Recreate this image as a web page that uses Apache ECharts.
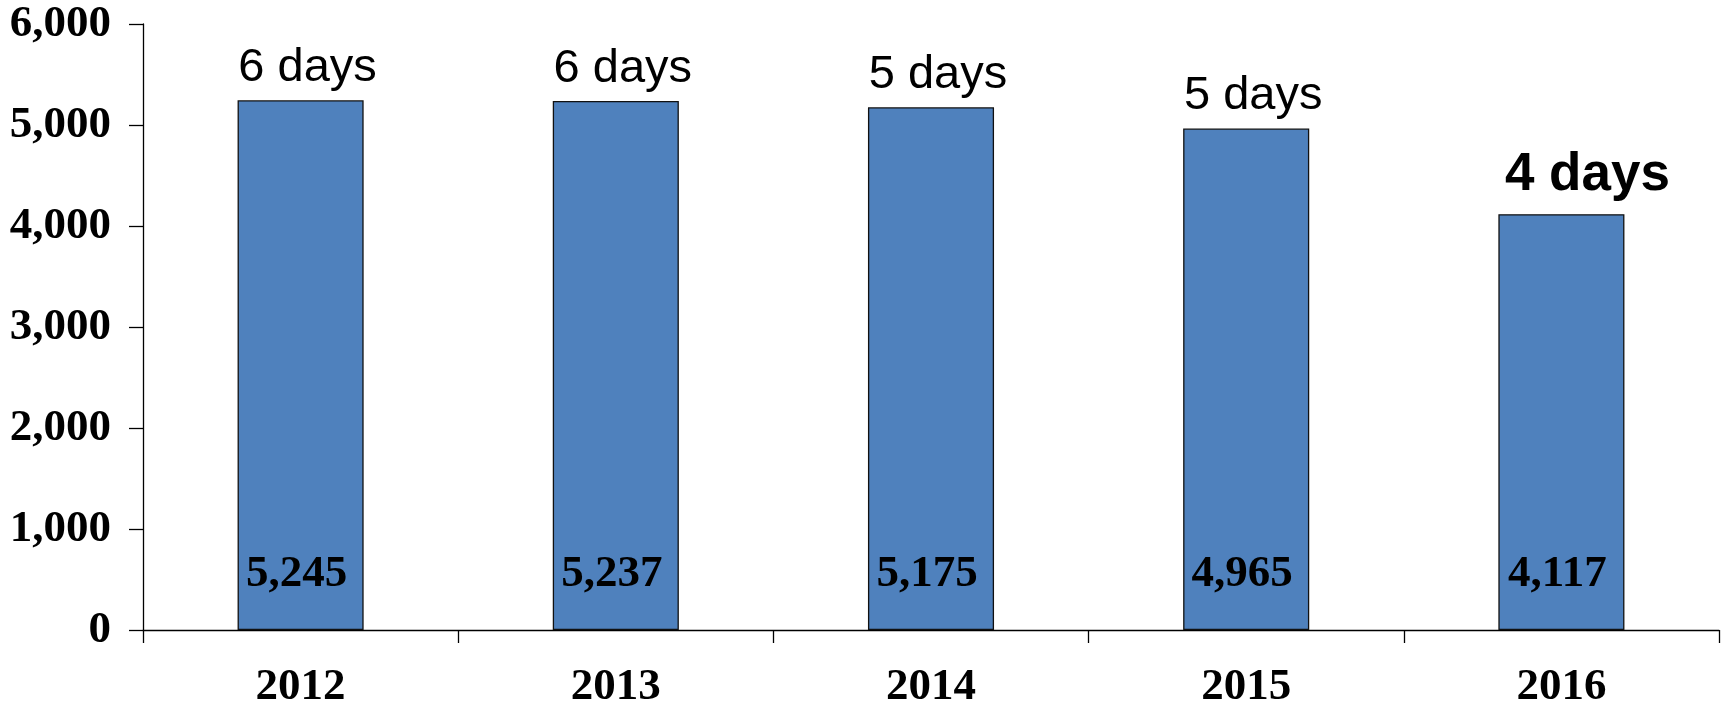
<!DOCTYPE html>
<html>
<head>
<meta charset="utf-8">
<script src="https://cdn.jsdelivr.net/npm/echarts@6/dist/echarts.min.js"></script>
<style>
html,body{margin:0;padding:0;background:#fff;}
#chart{width:1726px;height:706px;}
</style>
</head>
<body>
<div id="chart"></div>
<script>
const categories = ['2012', '2013', '2014', '2015', '2016'];
const values = [5245, 5237, 5175, 4965, 4117];
const dayLabels = ['6 days', '6 days', '5 days', '5 days', '4 days'];
const yTicks = [0, 1000, 2000, 3000, 4000, 5000, 6000];

const fmt = v => v.toLocaleString('en-US');
const serif = "'Liberation Serif', 'Times New Roman', serif";
const sans = "'Liberation Sans', Arial, sans-serif";
const last = values.length - 1;

const chart = echarts.init(document.getElementById('chart'));
chart.setOption({
  animation: false,
  backgroundColor: '#fff',
  grid: { left: 143, right: 7, top: 24, bottom: 76, containLabel: false, outerBoundsMode: 'none' },
  xAxis: {
    type: 'category',
    data: categories,
    boundaryGap: true,
    axisLine: { lineStyle: { color: '#000', width: 1.3 } },
    axisTick: { show: true, length: 13, alignWithLabel: false, lineStyle: { color: '#000', width: 1.3 } },
    axisLabel: { color: '#000', fontFamily: serif, fontWeight: 'bold', fontSize: 45, margin: 35 }
  },
  yAxis: {
    type: 'value',
    min: yTicks[0],
    max: yTicks[yTicks.length - 1],
    interval: yTicks[1] - yTicks[0],
    splitLine: { show: false },
    axisLine: { show: true, lineStyle: { color: '#000', width: 1.3 } },
    axisTick: { show: true, length: 14, lineStyle: { color: '#000', width: 1.3 } },
    axisLabel: { color: '#000', fontFamily: serif, fontWeight: 'bold', fontSize: 45, margin: 32, formatter: v => fmt(v) }
  },
  series: [
    {
      type: 'bar',
      barWidth: '40%',
      data: values.map((v, i) => ({
        value: v,
        label: i === last
          ? { fontWeight: 'bold', fontSize: 53, offset: [26, 0], distance: 12 }
          : {}
      })),
      itemStyle: { color: '#4F81BD', borderColor: '#111', borderWidth: 1.3 },
      label: {
        show: true,
        position: 'top',
        distance: 9,
        offset: [7, 0],
        color: '#000',
        fontFamily: sans,
        fontSize: 47,
        formatter: p => dayLabels[p.dataIndex]
      },
      z: 2
    },
    {
      type: 'bar',
      barWidth: '40%',
      barGap: '-100%',
      data: values,
      itemStyle: { color: 'rgba(0,0,0,0)' },
      label: {
        show: true,
        position: 'insideBottom',
        distance: 33,
        offset: [-4, 0],
        color: '#000',
        fontFamily: serif,
        fontWeight: 'bold',
        fontSize: 45,
        formatter: p => fmt(p.value)
      },
      z: 3
    }
  ]
});
</script>
</body>
</html>
